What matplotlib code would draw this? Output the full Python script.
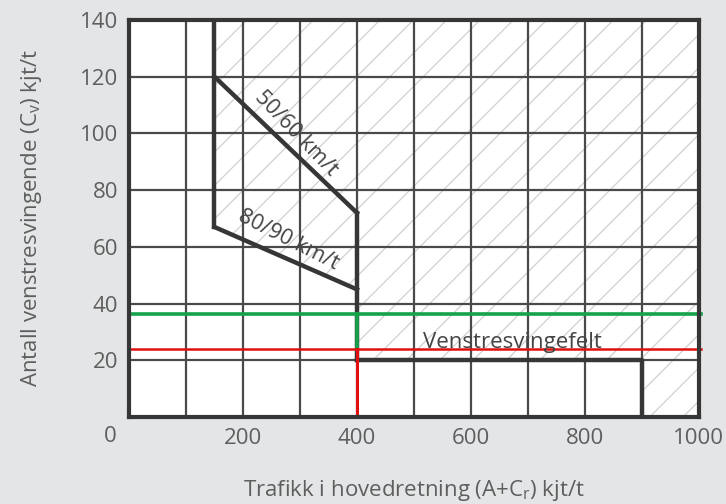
import matplotlib
matplotlib.use("Agg")
import matplotlib.pyplot as plt
from matplotlib.patches import Polygon

plt.rcParams['font.family'] = ['Open Sans', 'DejaVu Sans']
plt.rcParams['mathtext.default'] = 'regular'
plt.rcParams['hatch.linewidth'] = 0.9

# data
x_ticks = [200, 400, 600, 800, 1000]
y_ticks = [20, 40, 60, 80, 100, 120, 140]
x_grid = [100, 200, 300, 400, 500, 600, 700, 800, 900]
y_grid = [20, 40, 60, 80, 100, 120]

# boundary of the left-turn lane zone (hatched)
zone_x = [150, 1000, 1000, 900, 900, 400, 400, 150]
zone_y = [140, 140, 0, 0, 20, 20, 45, 67]

# thick boundary lines
left_x, left_y = [150, 150], [140, 67]
line5060_x, line5060_y = [150, 400], [120, 72]
line8090_x, line8090_y = [150, 400], [67, 45]
mid_x, mid_y = [400, 400], [72, 20]
field_x, field_y = [400, 900, 900], [20, 20, 0]

# example reading lines
green_x, green_y = [0, 1003], [36.5, 36.5]
green_v_x, green_v_y = [400, 400], [36.5, 24]
red_x, red_y = [0, 1003], [24, 24]
red_v_x, red_v_y = [400, 400], [24, 0]

bg = '#e4e5e6'
dark = '#363636'
txt = '#5e5e5e'
fs = 16

fig = plt.figure(figsize=(7.26, 5.04), dpi=100, facecolor=bg)
ax = fig.add_axes([0.1777, 0.1726, 0.785, 0.7877])
ax.set_facecolor('white')
ax.set_xlim(0, 1000)
ax.set_ylim(0, 140)

ax.add_patch(Polygon(list(zip(zone_x, zone_y)), closed=True, facecolor='white',
                     edgecolor='#d0d0d0', linewidth=0, hatch='/', zorder=1))

for gx in x_grid:
    ax.axvline(gx, color='#4a4a4a', lw=1.6, zorder=2)
for gy in y_grid:
    ax.axhline(gy, color='#4a4a4a', lw=1.6, zorder=2)

for xs, ys in [(left_x, left_y), (line5060_x, line5060_y), (line8090_x, line8090_y),
               (mid_x, mid_y), (field_x, field_y)]:
    ax.plot(xs, ys, color=dark, lw=3.2, solid_capstyle='projecting', zorder=3)

ax.plot(green_x, green_y, color='#14a34a', lw=2.6, zorder=4, clip_on=False)
ax.plot(green_v_x, green_v_y, color='#14a34a', lw=2.6, zorder=4)
ax.plot(red_x, red_y, color='#e01010', lw=1.8, zorder=5, clip_on=False)
ax.plot(red_v_x, red_v_y, color='#e01010', lw=2.2, zorder=5)

ax.text(293, 100, '50/60 km/t', rotation=-46, ha='center', va='center',
        fontsize=15.5, color='#444444', zorder=6)
ax.text(279, 62.5, '80/90 km/t', rotation=-27, ha='center', va='center',
        fontsize=15.5, color='#444444', zorder=6)
ax.text(516, 24.3, 'Venstresvingefelt', ha='left', va='baseline',
        fontsize=fs, color='#444444', zorder=6)

for s in ax.spines.values():
    s.set_color(dark)
    s.set_linewidth(3)
    s.set_zorder(7)

ax.set_xticks(x_ticks)
ax.set_yticks(y_ticks)
ax.tick_params(length=0, labelsize=fs, labelcolor=txt)
ax.tick_params(axis='x', pad=8)
ax.tick_params(axis='y', pad=8)
ax.text(-33, -7, '0', ha='center', va='center', fontsize=fs, color=txt, clip_on=False)

ax.set_xlabel('Trafikk i hovedretning (A+C$_r$) kjt/t', fontsize=fs, color=txt, labelpad=21)
ax.set_ylabel('Antall venstresvingende (C$_v$) kjt/t', fontsize=fs, color=txt, labelpad=26)

fig.savefig('out.png', dpi=100, facecolor=bg)
